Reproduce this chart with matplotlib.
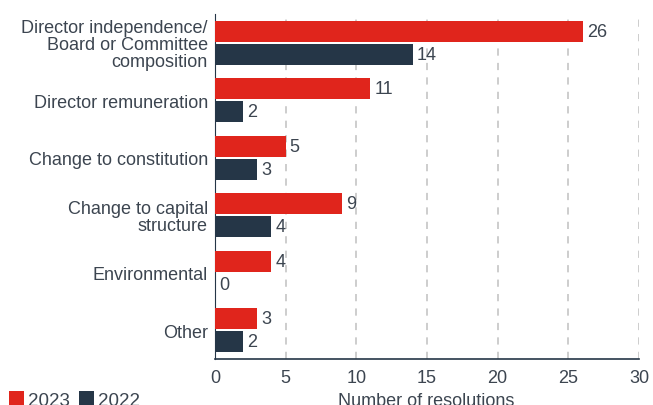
import matplotlib.pyplot as plt
import numpy as np

categories = ["Director independence/\nBoard or Committee\ncomposition",
              "Director remuneration",
              "Change to constitution",
              "Change to capital\nstructure",
              "Environmental",
              "Other"]
vals_2023 = [26, 11, 5, 9, 4, 3]
vals_2022 = [14, 2, 3, 4, 0, 2]

RED = "#e0251c"
NAVY = "#253647"
TXT = "#3c4550"

plt.rcParams['font.family'] = ['Liberation Sans', 'DejaVu Sans']

fig = plt.figure(figsize=(6.53, 4.06), dpi=100)
ax = fig.add_axes([0.329, 0.1133, 0.6497, 0.8497])

y = np.arange(len(categories))
h = 0.37
ax.barh(y - 0.2, vals_2023, height=h, color=RED, label="2023", zorder=3)
ax.barh(y + 0.2, vals_2022, height=h, color=NAVY, label="2022", zorder=3)

for yi, v in zip(y, vals_2023):
    ax.text(v + 0.3, yi - 0.2, str(v), va='center', ha='left', fontsize=13, color=TXT)
for yi, v in zip(y, vals_2022):
    ax.text(v + 0.3, yi + 0.2, str(v), va='center', ha='left', fontsize=13, color=TXT)

ax.set_xlim(0, 30)
ax.set_ylim(len(categories) - 0.5, -0.5)
ax.set_xticks(range(0, 31, 5))
ax.set_yticks(y)
ax.set_yticklabels(categories, fontsize=13, color=TXT, linespacing=1.0)
ax.tick_params(axis='x', labelsize=13, colors=TXT, length=0, pad=7)
ax.tick_params(axis='y', length=0, pad=5)
ax.xaxis.grid(True, linestyle=(0, (4, 4)), color="#c9c9c9", linewidth=1.3, zorder=0)
for s in ['top', 'right']:
    ax.spines[s].set_visible(False)
ax.spines['left'].set_color(NAVY)
ax.spines['left'].set_linewidth(0.8)
ax.spines['bottom'].set_color(NAVY)
ax.spines['bottom'].set_linewidth(1.2)

fig.text(0.652, 0.012, "Number of resolutions", ha='center', va='center', fontsize=13, color=TXT)
fig.legend(loc='center left', bbox_to_anchor=(-0.012, 0.012), ncol=2, frameon=False,
           fontsize=13.5, handlelength=0.8, handleheight=0.8, handletextpad=0.2,
           columnspacing=0.5, labelcolor=TXT)

fig.savefig("out.png", dpi=100)
